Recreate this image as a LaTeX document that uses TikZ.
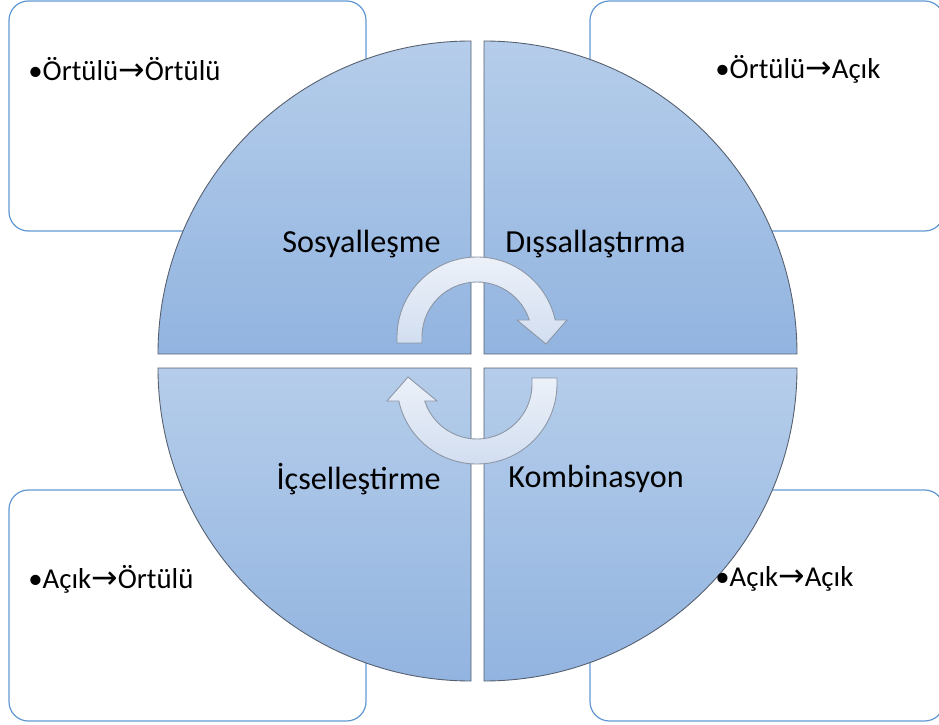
\documentclass[tikz,border=0pt]{standalone}
\usepackage{fontspec}
\setmainfont{Carlito}
\newfontfamily\symfont{DejaVu Sans}
\usetikzlibrary{positioning}
\tikzset{>=latex}
\definecolor{boxline}{RGB}{98,153,212}
\definecolor{qtop}{RGB}{181,205,234}
\definecolor{qbot}{RGB}{146,180,224}
\definecolor{qline}{RGB}{85,95,110}
\definecolor{atop}{RGB}{236,241,249}
\definecolor{abot}{RGB}{210,222,240}
\definecolor{aline}{RGB}{140,150,165}
\newcommand{\becomes}{{\symfont\fontsize{18}{20}\selectfont →}}
\tikzset{
  cornerbox/.style={draw=boxline, line width=0.7pt, fill=white, rounded corners=11pt},
  quarter/.style={draw=qline, line width=0.5pt, top color=qtop, bottom color=qbot},
  turnarrow/.style={draw=aline, line width=0.5pt, top color=atop, bottom color=abot},
  qtext/.style={font=\fontsize{18.3}{22}\selectfont, inner sep=0pt},
  btext/.style={font=\fontsize{16.4}{20}\selectfont, inner sep=0pt, anchor=west}
}

\begin{document}
\begin{tikzpicture}[x=0.02cm, y=0.02cm]
      \def\R{313}  % radius of the quarters
      \clip (0,0) rectangle (939,724);
      % corner boxes
      \draw[cornerbox] (9,493) rectangle (366,723);
      \draw[cornerbox] (590,493) rectangle (944,723);
      \draw[cornerbox] (9,3) rectangle (366,234);
      \draw[cornerbox] (590,3) rectangle (944,234);
      %
      \foreach \cx/\cy/\sa/\ea in {471/370/180/90, 484/370/90/0, 471/356/180/270, 484/356/0/-90} {%
        \draw[quarter] (\cx,\cy) -- ++(\sa:\R) arc[start angle=\sa, end angle=\ea, radius=\R] -- cycle;
      }
      % the two turning arrows
      \foreach \rot in {0,180} {%
        \draw[turnarrow, rotate around={\rot:(477,363.5)}] (397,381) -- (397,387)
          arc[start angle=180, end angle=12.3, radius=80] -- (567,404) -- (546,380)
          -- (517,404) -- (529.3,404) arc[start angle=18, end angle=180, radius=55]
          -- (422,381) -- cycle;
      }
      \node[qtext, anchor=east] (sosyal) at (441,480) {Sosyalleşme};
      \node[qtext, anchor=west] (dissal) at (505,480) {Dışsallaştırma};
      \node[qtext, anchor=east] (icsel) at (441,245) {İçselleştirme};
      \node[qtext, anchor=west] (kombi) at (508,245) {Kombinasyon};
      %
      \node[btext] (oo) at (28,655) {•Örtülü\becomes Örtülü};
      \node[btext] (oa) at (715,655) {•Örtülü\becomes Açık};
      \node[btext] (ao) at (28,145) {•Açık\becomes Örtülü};
      \node[btext] (aa) at (715,145) {•Açık\becomes Açık};
    \end{tikzpicture}
\end{document}
